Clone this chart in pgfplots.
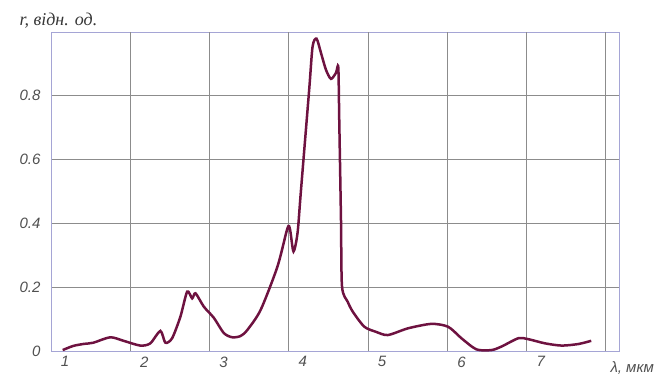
\documentclass[border=0pt]{standalone}
\usepackage{pgfplots}
\pgfplotsset{compat=1.18}
\usepackage{fontspec}
\setmainfont{Liberation Sans}
\newfontfamily\serifit{Liberation Serif}
\definecolor{curve}{RGB}{110,18,64}
\definecolor{frame}{RGB}{165,165,213}
\definecolor{gridc}{RGB}{140,140,140}
\definecolor{lab}{RGB}{80,80,80}
\definecolor{labd}{RGB}{55,55,55}
\begin{document}
\begin{tikzpicture}[x=1pt,y=1pt]
\begin{axis}[
  at={(0,0)}, anchor=south west,
  scale only axis,
  width=568pt, height=319pt,
  xmin=0.836, xmax=8.0,
  ymin=0, ymax=1.0,
  axis line style={frame, line width=1pt},
  xtick={1,2,3,4,5,6,7},
  ytick={0,0.2,0.4,0.6,0.8},
  yticklabels={0,0.2,0.4,0.6,0.8},
  major tick length=0pt,
  xmajorgrids=false,
  ymajorgrids=true,
  extra x ticks={1.822,2.822,3.822,4.822,5.822,6.822,7.822},
  extra x tick labels={},
  extra x tick style={xmajorgrids=true, major tick length=0pt},
  grid style={gridc, line width=0.8pt},
  tick label style={font=\fontsize{15}{18}\selectfont\itshape, text=lab},
  /pgf/number format/assume math mode=true,
  xticklabel style={yshift=-2pt},
  yticklabel style={xshift=-8pt},
  clip=false,
]
\addplot[curve, line width=2.5pt, smooth, tension=0.45] coordinates {
(0.971,0.003) (1.105,0.016) (1.232,0.022) (1.358,0.026) (1.570,0.043)
(1.738,0.032) (1.949,0.017) (2.076,0.024) (2.203,0.063) (2.266,0.026)
(2.351,0.040) (2.456,0.108) (2.541,0.186) (2.604,0.165) (2.646,0.181)
(2.751,0.139) (2.877,0.104) (3.004,0.056) (3.110,0.043) (3.215,0.047)
(3.300,0.066) (3.468,0.129) (3.680,0.265) (3.806,0.385) (3.839,0.380)
(3.882,0.312) (3.933,0.370) (3.975,0.500) (4.080,0.820) (4.123,0.955)
(4.173,0.979) (4.228,0.935) (4.291,0.882) (4.354,0.853) (4.418,0.872)
(4.447,0.889) (4.459,0.725) (4.481,0.411) (4.494,0.202) (4.566,0.154)
(4.633,0.122) (4.776,0.076) (4.924,0.060) (5.072,0.050) (5.325,0.071)
(5.620,0.085) (5.832,0.076) (6.000,0.040) (6.190,0.005) (6.380,0.003)
(6.506,0.014) (6.718,0.040) (6.844,0.037) (7.054,0.024) (7.266,0.017)
(7.477,0.022) (7.637,0.032)
};
\end{axis}
\node[anchor=west, text=labd, font=\fontsize{18}{21}\selectfont\serifit\itshape] at (-36,330) {r, відн. од.};
\node[anchor=west, text=lab, font=\fontsize{15}{18}\selectfont\itshape] at (555,-17) {λ, мкм};
\path[use as bounding box] (-52,-25) rectangle (610,351);
\end{tikzpicture}
\end{document}
